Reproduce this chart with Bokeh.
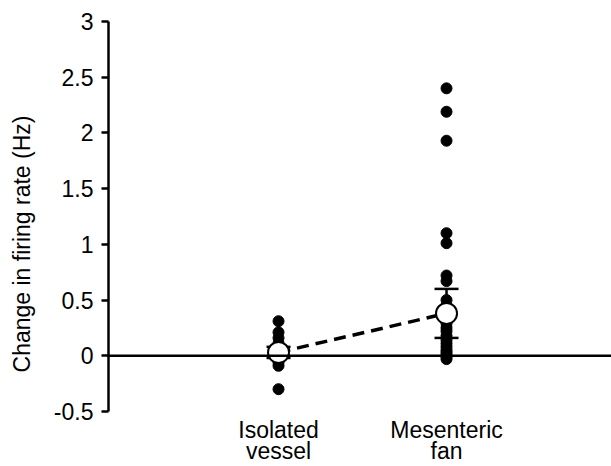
from bokeh.plotting import figure
from bokeh.models import (Range1d, FixedTicker, Span, Whisker, TeeHead,
                          ColumnDataSource)
from bokeh.core.properties import value
from bokeh.embed import file_html
from bokeh.resources import INLINE

# ---- data ----
categories = ["Isolated\nvessel", "Mesenteric\nfan"]
cat_x = [1, 2]

isolated_vals = [0.31, 0.21, 0.16, 0.11, 0.05, 0.0, -0.06, -0.09, -0.30]
mesenteric_vals = [2.40, 2.19, 1.93, 1.10, 1.01, 0.72, 0.67, 0.50, 0.45,
                   0.29, 0.25, 0.22, 0.18, 0.14, 0.11, 0.08, 0.05, 0.03,
                   0.01, -0.01, -0.03]

means = [0.03, 0.38]
sems = [0.05, 0.22]

y_ticks = [-0.5, 0, 0.5, 1, 1.5, 2, 2.5, 3]
y_tick_labels = ["-0.5", "0", "0.5", "1", "1.5", "2", "2.5", "3"]
y_axis_min, y_axis_max = -0.5, 3

FONT = "Liberation Sans"

p = figure(width=611, height=466, output_backend="svg", toolbar_location=None,
           x_range=Range1d(-0.012, 2.982), y_range=Range1d(-0.994, y_axis_max),
           x_axis_location=None,
           min_border_left=108, min_border_right=0,
           min_border_top=21, min_border_bottom=0)
p.outline_line_color = None
p.grid.visible = False
p.background_fill_color = "white"
p.border_fill_color = "white"

ax = p.yaxis[0]
ax.bounds = (y_axis_min, y_axis_max)
ax.ticker = FixedTicker(ticks=y_ticks)
ax.major_label_overrides = {t: l for t, l in zip(y_ticks, y_tick_labels)}
ax.major_tick_in = 0
ax.major_tick_out = 7
ax.minor_tick_line_color = None
ax.axis_line_width = 2.5
ax.major_tick_line_width = 2.5
ax.axis_line_color = "black"
ax.major_tick_line_color = "black"
ax.major_label_text_font = FONT
ax.major_label_text_font_size = "23px"
ax.major_label_text_color = "black"
ax.major_label_standoff = 8
ax.axis_label = "Change in firing rate (Hz)"
ax.axis_label_text_font = FONT
ax.axis_label_text_font_size = "23px"
ax.axis_label_text_font_style = "normal"
ax.axis_label_text_color = "black"
ax.axis_label_standoff = 16

# zero line
p.add_layout(Span(location=0, dimension="width", line_color="black", line_width=2.5))

# individual points
p.scatter([cat_x[0]] * len(isolated_vals), isolated_vals, size=11,
          fill_color="black", line_color="black")
p.scatter([cat_x[1]] * len(mesenteric_vals), mesenteric_vals, size=11,
          fill_color="black", line_color="black")

# error bars
err_src = ColumnDataSource(dict(
    x=cat_x,
    upper=[m + s for m, s in zip(means, sems)],
    lower=[m - s for m, s in zip(means, sems)],
))
wh = Whisker(base="x", upper="upper", lower="lower", source=err_src,
             line_color="black", line_width=2.5,
             upper_head=TeeHead(size=24, line_width=2.5, line_color="black"),
             lower_head=TeeHead(size=24, line_width=2.5, line_color="black"))
p.add_layout(wh)

# dashed line between means
p.line(cat_x, means, line_dash="12 7", line_width=3.5, line_color="black")

# mean markers
p.scatter(cat_x, means, size=21, fill_color="white", line_color="black",
          line_width=2)

# category labels (two lines each), placed below the axis bottom
lines = [c.split("\n") for c in categories]
for i, offset in enumerate([19, 40]):
    p.text(x=cat_x, y=[y_axis_min] * len(cat_x), text=[l[i] for l in lines],
           y_offset=offset, text_align="center", text_baseline="alphabetic",
           text_font=value(FONT), text_font_size="23px", text_color="black")

open("out.html", "w").write(file_html(p, INLINE))
